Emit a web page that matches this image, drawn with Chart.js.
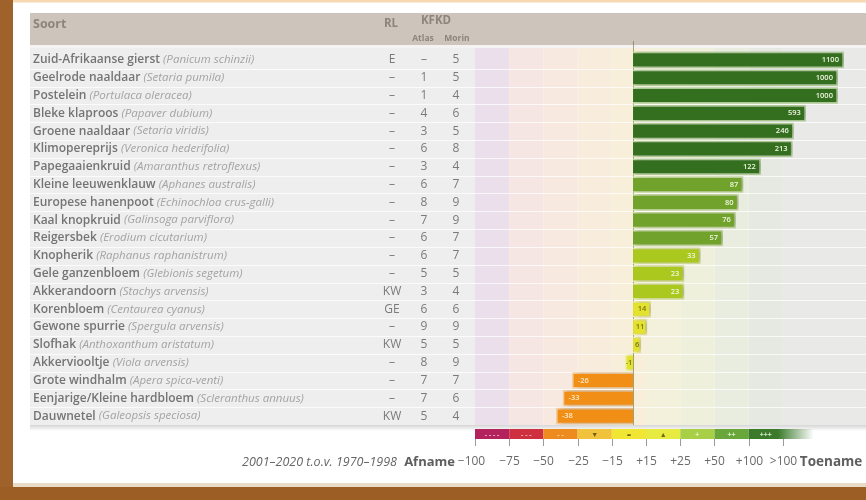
<!DOCTYPE html>
<html>
<head>
<meta charset="utf-8">
<script src="https://cdn.jsdelivr.net/npm/chart.js@4"></script>
<style>
  html, body { margin: 0; padding: 0; background: #fff; }
  canvas { display: block; }
</style>
</head>
<body>
<canvas id="trendChart" width="866" height="500"></canvas>
<script>
const soorten = ['Zuid-Afrikaanse gierst', 'Geelrode naaldaar', 'Postelein', 'Bleke klaproos', 'Groene naaldaar',
    'Klimopereprijs', 'Papegaaienkruid', 'Kleine leeuwenklauw', 'Europese hanenpoot', 'Kaal knopkruid',
    'Reigersbek', 'Knopherik', 'Gele ganzenbloem', 'Akkerandoorn', 'Korenbloem', 'Gewone spurrie',
    'Slofhak', 'Akkerviooltje', 'Grote windhalm', 'Eenjarige/Kleine hardbloem', 'Dauwnetel'];
const latijn = ['Panicum schinzii', 'Setaria pumila', 'Portulaca oleracea', 'Papaver dubium', 'Setaria viridis',
    'Veronica hederifolia', 'Amaranthus retroflexus', 'Aphanes australis', 'Echinochloa crus-galli', 'Galinsoga parviflora',
    'Erodium cicutarium', 'Raphanus raphanistrum', 'Glebionis segetum', 'Stachys arvensis', 'Centaurea cyanus', 'Spergula arvensis',
    'Anthoxanthum aristatum', 'Viola arvensis', 'Apera spica-venti', 'Scleranthus annuus', 'Galeopsis speciosa'];
const rodeLijst = ['E', '–', '–', '–', '–', '–', '–', '–', '–', '–', '–', '–', '–', 'KW', 'GE', '–', 'KW', '–', '–', '–', 'KW'];
const atlas = ['–', '1', '1', '4', '3', '6', '3', '6', '8', '7', '6', '6', '5', '3', '6', '9', '5', '8', '7', '7', '5'];
const morin = ['5', '5', '4', '6', '5', '8', '4', '7', '9', '9', '7', '7', '5', '4', '6', '9', '5', '9', '7', '6', '4'];
// verandering in % (2001-2020 t.o.v. 1970-1998)
const trend = [1100, 1000, 1000, 593, 246, 213, 122, 87, 80, 76, 57, 33, 23, 23, 14, 11, 6, -1, -26, -33, -38];

const legendTicks = ['−100', '−75', '−50', '−25', '−15', '+15', '+25', '+50', '+100', '>100'];
const legendSymbols = ['- - - -', '- - -', '- -', '▼', '=', '▲', '+', '++', '+++'];
const legendColors = ['#b3225c', '#cf3040', '#ee8b1f', '#f1c23c', '#f0e633', '#e7ea40', '#a9cf46', '#6aa73a', '#3b7a2b'];
const symbolColors = ['#f2b6cc', '#f6b9b9', '#fcd6a8', '#6e5c12', '#6c6a14', '#6c6a14', '#eef7d8', '#e2f1d0', '#d9ecd0'];
const bandTints = ['#eadfeb', '#f5e5e3', '#f7e9df', '#f8ecdc', '#f7efda', '#f3f0db', '#eff0dc', '#e9ede0', '#e6e9e2', '#e9e9e7'];

// de horizontale as is niet lineair: waarde -> positie in legendavakken
const xKnots = [[-100, 0], [-50, 1.9], [-25, 2.87], [0, 4.62], [15, 5.18], [25, 6.35], [50, 7.11],
    [100, 8.1], [200, 9.27], [600, 9.68], [1000, 10.61], [1200, 10.96]];

function toBand(v) {
    if (v <= xKnots[0][0]) return xKnots[0][1];
    for (let i = 1; i < xKnots.length; i++) {
        const [v0, b0] = xKnots[i - 1];
        const [v1, b1] = xKnots[i];
        if (v <= v1) return b0 + (v - v0) / (v1 - v0) * (b1 - b0);
    }
    return xKnots[xKnots.length - 1][1];
}

class PiecewiseScale extends Chart.LinearScale {
    getPixelForValue(v) { return super.getPixelForValue(toBand(v)); }
    getPixelForBand(b) { return super.getPixelForValue(b); }
}
PiecewiseScale.id = 'piecewise';
PiecewiseScale.defaults = Chart.LinearScale.defaults;
Chart.register(PiecewiseScale);

function barFill(v) {
    if (v > 100) return '#346f20';
    if (v >= 50) return '#71a22c';
    if (v >= 20) return '#abc81e';
    if (v > -15) return '#e3e22e';
    return '#f08e16';
}
function barRim(v) {
    if (v > 100) return '#bcdca0';
    if (v >= 50) return '#cfe5a6';
    if (v >= 20) return '#e3eea0';
    if (v > -15) return '#f4f3a2';
    return '#f9cf9c';
}
function labelColor(v) {
    if (v >= 20) return '#eef6e0';
    if (v > -15) return '#77741a';
    return '#fde6c6';
}

const FONT = '"Open Sans", "Liberation Sans", sans-serif';

const shadowPlugin = {
    id: 'barShadow',
    beforeDatasetsDraw(chart) {
        const ctx = chart.ctx;
        ctx.save();
        ctx.shadowColor = 'rgba(60,60,60,0.35)';
        ctx.shadowBlur = 5;
        ctx.shadowOffsetX = 3;
    },
    afterDatasetsDraw(chart) {
        chart.ctx.restore();
    }
};

const tablePlugin = {
    id: 'table',
    beforeDraw(chart) {
        const { ctx, chartArea: a, scales: { x } } = chart;
        const n = soorten.length;
        const rowH = (a.bottom - a.top) / n;
        ctx.save();
        ctx.fillStyle = '#fff';
        ctx.fillRect(0, 0, chart.width, chart.height);
        // kader
        ctx.fillStyle = '#a0622b';
        ctx.fillRect(0, 0, 13, chart.height);
        ctx.fillStyle = '#f6d9b3';
        ctx.fillRect(13, 0, chart.width, 2.5);
        ctx.fillStyle = '#eadbc9';
        ctx.fillRect(13, 483, chart.width, 4);
        ctx.fillStyle = '#9d5e25';
        ctx.fillRect(0, 487, chart.width, 13);
        // kop
        ctx.fillStyle = '#cdc4bb';
        ctx.fillRect(30, 13, chart.width - 30, 32);
        ctx.fillStyle = '#f4f2f2';
        ctx.fillRect(30, 45, chart.width - 30, a.top - 45);
        // rijen links
        ctx.fillStyle = '#efeeee';
        ctx.fillRect(30, a.top - 3, a.left - 30, a.bottom - a.top + 3);
        // gekleurde vakken achter de balken
        for (let i = 0; i < bandTints.length; i++) {
            const x0 = x.getPixelForBand(i);
            const x1 = i === bandTints.length - 1 ? a.right : x.getPixelForBand(i + 1);
            ctx.fillStyle = bandTints[i];
            ctx.fillRect(x0, a.top - 3, x1 - x0, a.bottom - a.top + 3);
        }
        ctx.strokeStyle = 'rgba(255,255,255,0.75)';
        ctx.lineWidth = 1;
        for (let i = 1; i < n; i++) {
            const yy = Math.round(a.top + i * rowH) + 0.5;
            ctx.beginPath();
            ctx.moveTo(30, yy);
            ctx.lineTo(a.right, yy);
            ctx.stroke();
        }
        // schaduw onder de tabel
        const g = ctx.createLinearGradient(0, a.bottom, 0, a.bottom + 6);
        g.addColorStop(0, 'rgba(0,0,0,0.16)');
        g.addColorStop(1, 'rgba(0,0,0,0)');
        ctx.fillStyle = g;
        ctx.fillRect(30, a.bottom, chart.width - 30, 6);
        // nullijn
        const x0 = Math.round(x.getPixelForValue(0)) + 0.5;
        ctx.strokeStyle = 'rgba(105,115,45,0.6)';
        ctx.beginPath();
        ctx.moveTo(x0, a.top - 10);
        ctx.lineTo(x0, a.bottom);
        ctx.stroke();
        ctx.restore();
    },
    afterDraw(chart) {
        const { ctx, chartArea: a, scales: { x, y } } = chart;
        ctx.save();
        ctx.textBaseline = 'middle';

        // kopteksten
        ctx.fillStyle = '#8e847b';
        ctx.font = 'bold 12.5px ' + FONT;
        ctx.textAlign = 'left';
        ctx.fillText('Soort', 33, 24);
        ctx.font = 'bold 11.5px ' + FONT;
        ctx.textAlign = 'center';
        ctx.fillText('RL', 391, 24);
        ctx.fillText('KFKD', 436, 21);
        ctx.font = 'bold 8.5px ' + FONT;
        ctx.fillText('Atlas', 423, 39);
        ctx.fillText('Morin', 457, 39);

        // tabel
        soorten.forEach((naam, i) => {
            const yy = y.getPixelForValue(i);
            ctx.textAlign = 'left';
            ctx.font = '600 12px ' + FONT;
            ctx.fillStyle = '#747474';
            ctx.fillText(naam, 33, yy);
            const w = ctx.measureText(naam + ' ').width;
            ctx.font = 'italic 11.5px ' + FONT;
            ctx.fillStyle = '#a3a3a3';
            ctx.fillText('(' + latijn[i] + ')', 33 + w, yy);
            ctx.textAlign = 'center';
            ctx.font = '12px ' + FONT;
            ctx.fillStyle = '#7a7a7a';
            ctx.fillText(rodeLijst[i], 392, yy);
            ctx.fillText(atlas[i], 424, yy);
            ctx.fillText(morin[i], 456, yy);
        });

        // waarden in de balken
        const meta = chart.getDatasetMeta(0);
        ctx.font = '600 7.5px ' + FONT;
        meta.data.forEach((bar, i) => {
            const v = trend[i];
            const w = Math.abs(bar.x - bar.base);
            ctx.fillStyle = labelColor(v);
            if (w < 22) {
                ctx.textAlign = 'center';
                ctx.fillText(String(v), (bar.x + bar.base) / 2, bar.y);
            } else if (v > 0) {
                ctx.textAlign = 'right';
                ctx.fillText(String(v), bar.x - 5, bar.y);
            } else {
                ctx.textAlign = 'left';
                ctx.fillText(String(v), bar.x + 6, bar.y);
            }
        });

        // legendabalk
        const sy = a.bottom + 4, sh = 10;
        legendColors.forEach((c, i) => {
            const x0 = x.getPixelForBand(i);
            let x1 = x.getPixelForBand(i + 1);
            if (i === legendColors.length - 1) {
                x1 = x.getPixelForBand(i + 1.9);
                const g = ctx.createLinearGradient(x0, 0, x1, 0);
                g.addColorStop(0, c);
                g.addColorStop(0.45, c);
                g.addColorStop(1, 'rgba(59,122,43,0)');
                ctx.fillStyle = g;
            } else {
                ctx.fillStyle = c;
            }
            ctx.fillRect(x0, sy, x1 - x0, sh);
            ctx.fillStyle = symbolColors[i];
            ctx.font = 'bold 7px ' + FONT;
            ctx.textAlign = 'center';
            ctx.fillText(legendSymbols[i], x.getPixelForBand(i + 0.5), sy + sh / 2 + 0.5);
        });
        ctx.strokeStyle = '#9a9a9a';
        ctx.lineWidth = 1;
        ctx.font = '12px ' + FONT;
        ctx.fillStyle = '#6a6a6a';
        legendTicks.forEach((t, i) => {
            const xx = Math.round(x.getPixelForBand(i)) + 0.5;
            ctx.beginPath();
            ctx.moveTo(xx, sy + sh);
            ctx.lineTo(xx, sy + sh + 7);
            ctx.stroke();
            ctx.textAlign = 'center';
            ctx.fillText(t, xx - (i === 0 ? 4 : 0), 462);
        });
        ctx.textAlign = 'right';
        ctx.font = 'bold 13px ' + FONT;
        ctx.fillStyle = '#5e5e5e';
        ctx.fillText('Afname', x.getPixelForBand(0) - 20, 462);
        ctx.font = 'italic 12.5px ' + FONT;
        ctx.fillStyle = '#666';
        ctx.fillText('2001–2020 t.o.v. 1970–1998', x.getPixelForBand(0) - 78, 462);
        ctx.textAlign = 'left';
        ctx.font = 'bold 13.5px ' + FONT;
        ctx.fillStyle = '#5e5e5e';
        ctx.fillText('Toename', x.getPixelForBand(9) + 17, 462);
        ctx.restore();
    }
};

new Chart(document.getElementById('trendChart'), {
    type: 'bar',
    data: {
        labels: soorten,
        datasets: [{
            data: trend,
            backgroundColor: trend.map(barFill),
            borderColor: trend.map(barRim),
            borderWidth: 1.7,
            borderSkipped: 'start',
            barPercentage: 0.93,
            categoryPercentage: 1,
            minBarLength: 8
        }]
    },
    options: {
        indexAxis: 'y',
        responsive: false,
        animation: false,
        events: [],
        layout: { padding: { left: 475, right: 0, top: 51, bottom: 75 } },
        scales: {
            x: { type: 'piecewise', min: 0, max: 11.43, display: false },
            y: { display: false }
        },
        plugins: { legend: { display: false }, tooltip: { enabled: false } }
    },
    plugins: [tablePlugin, shadowPlugin]
});
</script>
</body>
</html>
